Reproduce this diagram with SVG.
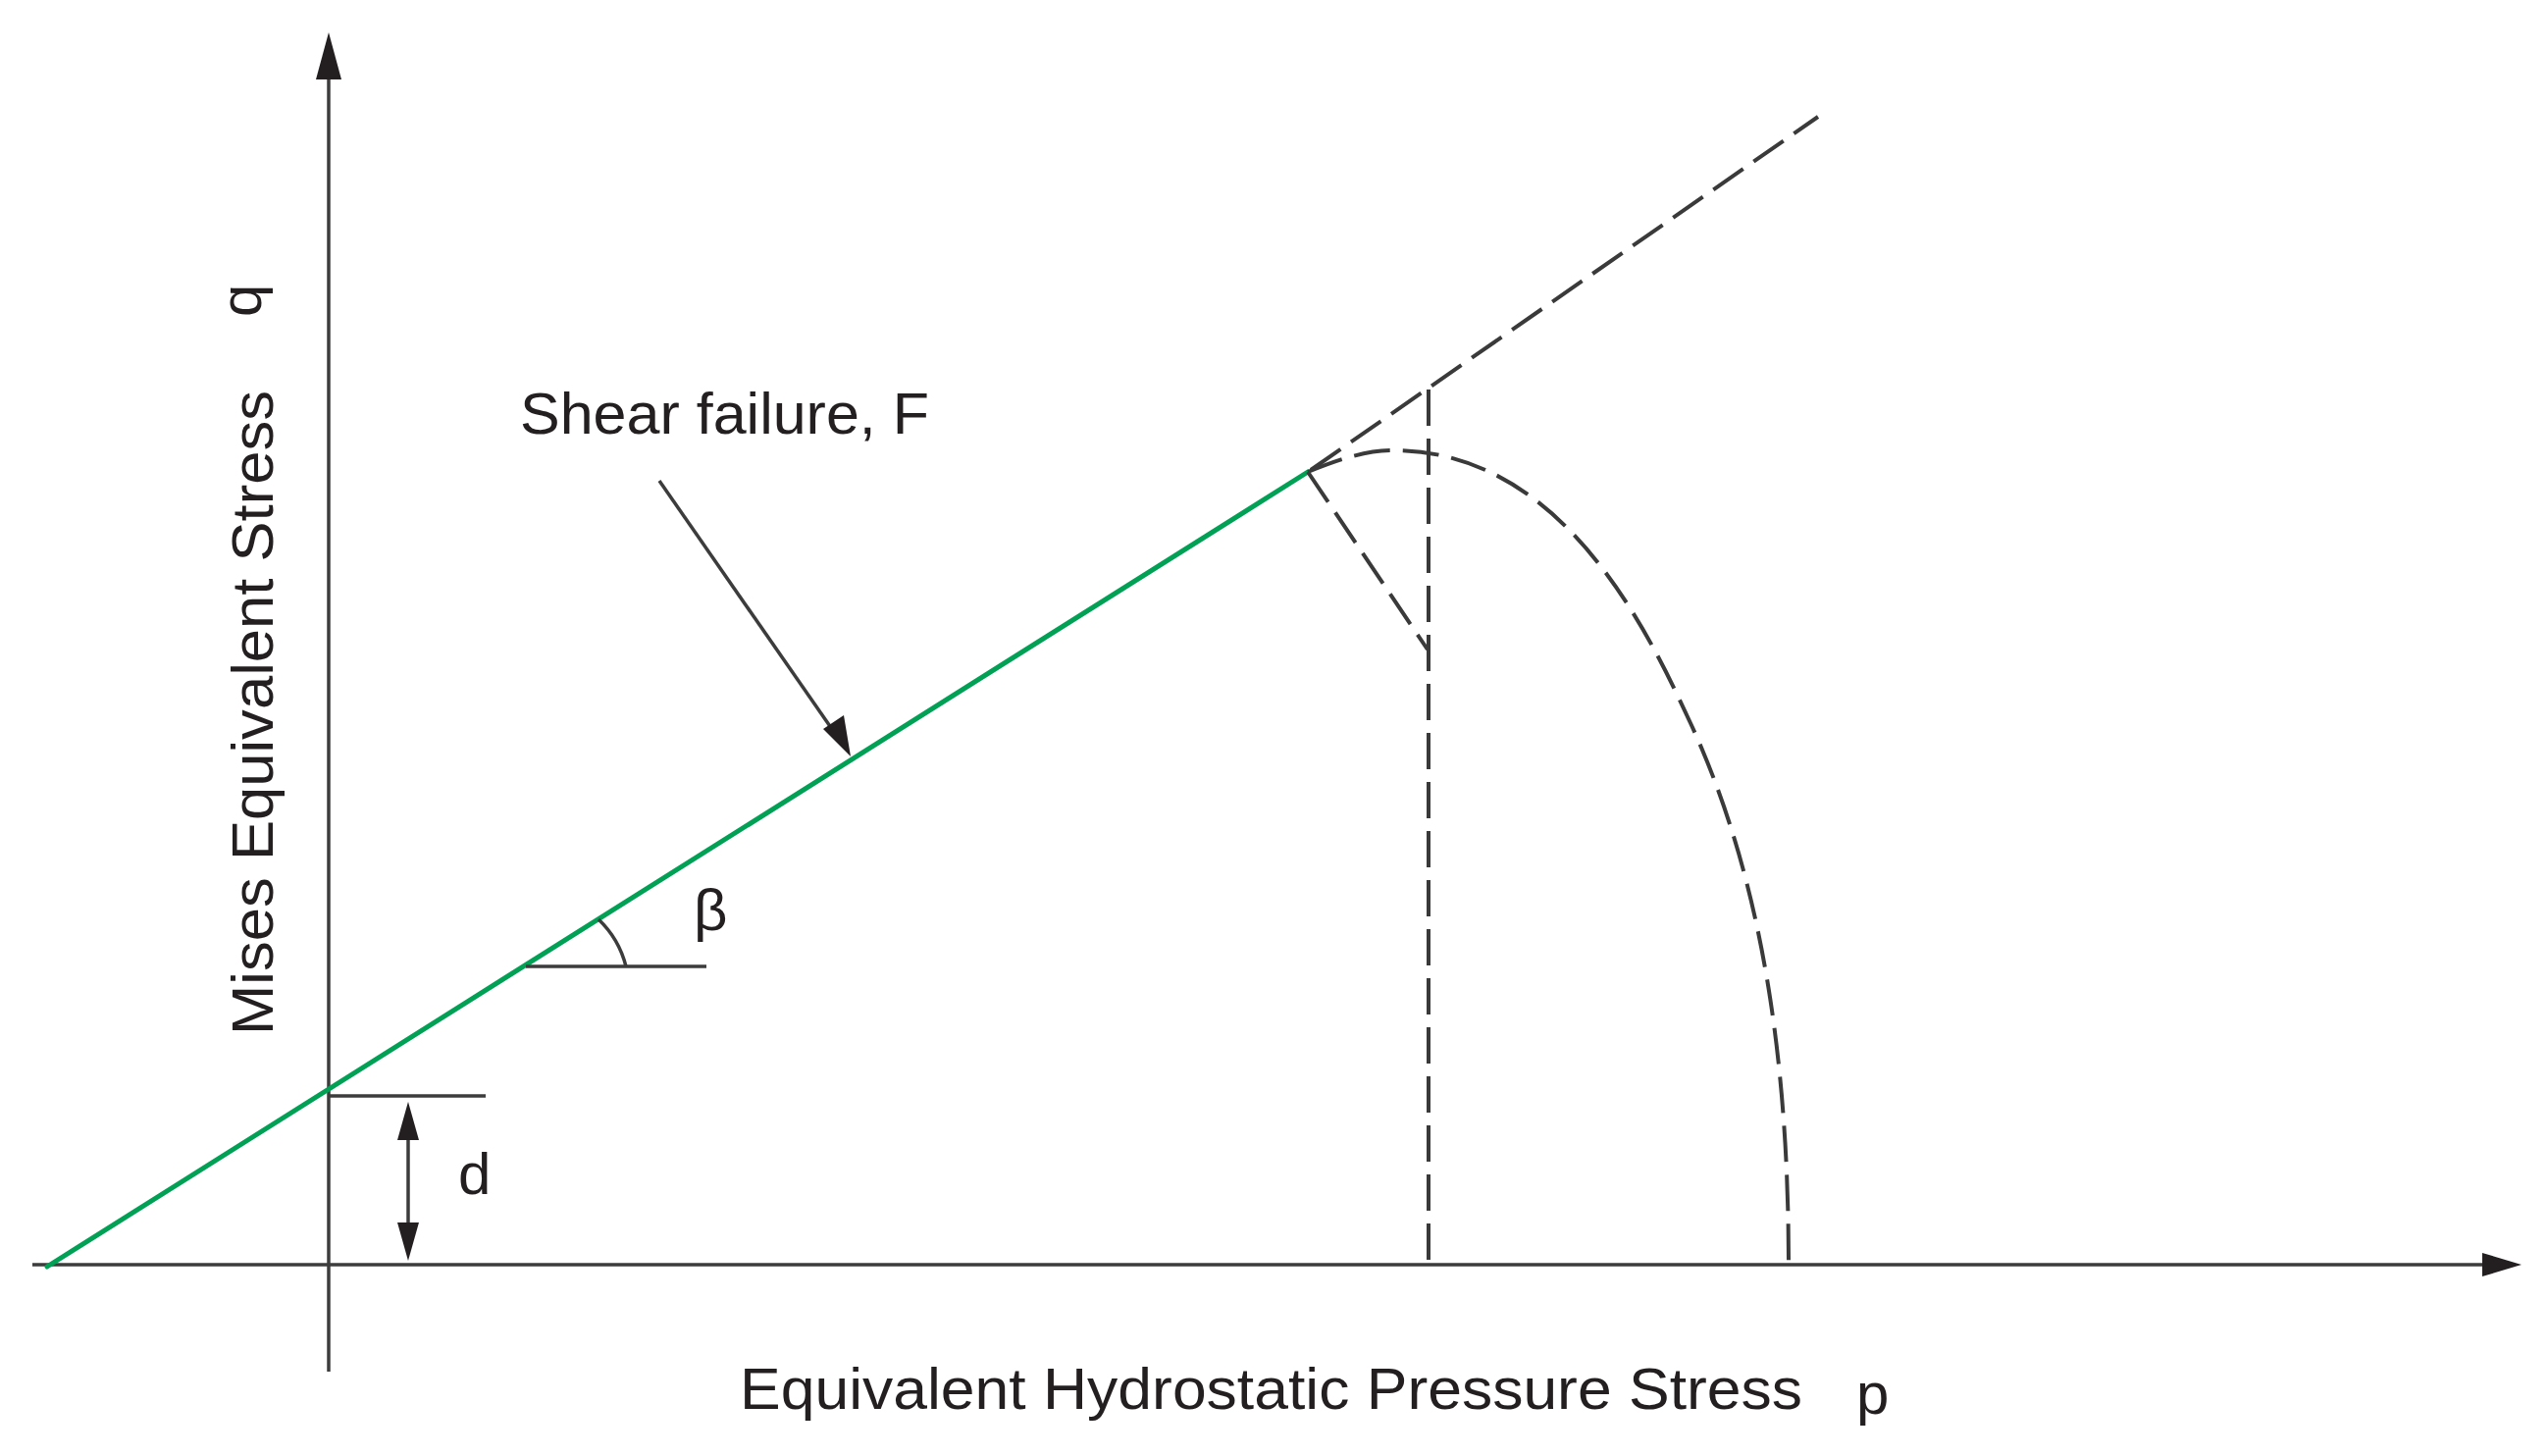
<svg xmlns="http://www.w3.org/2000/svg" width="2597" height="1484" viewBox="0 0 2597 1484">
  <style>
    .axis { stroke: #3c3c3c; stroke-width: 3.5; fill: none; }
    .thin { stroke: #3c3c3c; stroke-width: 3.5; fill: none; }
    .dash { stroke: #3a3a3a; stroke-width: 4; fill: none; stroke-dasharray: 37 13; }
    .green { stroke: #00a055; stroke-width: 5; fill: none; stroke-linecap: round; }
    .lbl { font-family: "Liberation Sans", Arial, sans-serif; font-size: 60px; fill: #231f20; }
    .head { fill: #231f20; }
  </style>
  <rect width="2597" height="1484" fill="#ffffff"/>

  <g id="axes">
    <line class="axis" x1="335" y1="1398" x2="335" y2="75"/>
    <polygon class="head" points="335,33 322,81 348,81"/>
    <line class="axis" x1="33" y1="1289" x2="2535" y2="1289"/>
    <polygon class="head" points="2570,1289 2530,1277 2530,1301"/>
  </g>

  <g id="shear-line">
    <line class="green" x1="48" y1="1291" x2="1333" y2="481"/>
  </g>

  <g id="cap">
    <line class="dash" x1="1336" y1="479" x2="1853" y2="119"/>
    <line class="dash" x1="1456" y1="397" x2="1456" y2="1288"/>
    <line class="dash" x1="1333" y1="481" x2="1455" y2="662"/>
    <path class="dash" d="M1333,481 C1360,470 1390,459 1420,459 C1590,459 1677,637 1723,737 C1783,867 1823,1038 1823,1288"/>
  </g>

  <g id="d-dimension">
    <line class="thin" x1="335" y1="1117" x2="495" y2="1117"/>
    <line class="thin" x1="416" y1="1150" x2="416" y2="1258"/>
    <polygon class="head" points="416,1123 405,1162 427,1162"/>
    <polygon class="head" points="416,1285 405,1246 427,1246"/>
    <text class="lbl" x="467" y="1217">d</text>
  </g>

  <g id="beta-angle">
    <line class="thin" x1="536" y1="985" x2="720" y2="985"/>
    <path class="thin" d="M638,985 A100,100 0 0 0 610,937"/>
    <text class="lbl" x="707" y="948">β</text>
  </g>

  <g id="shear-label">
    <text class="lbl" x="530" y="442" textLength="417" lengthAdjust="spacingAndGlyphs">Shear failure, F</text>
    <line class="thin" x1="672" y1="490" x2="850" y2="746"/>
    <polygon class="head" points="867,771 839,743 860,729"/>
  </g>

  <g id="axis-labels">
    <text class="lbl" transform="translate(278,1055) rotate(-90)" textLength="657" lengthAdjust="spacingAndGlyphs">Mises Equivalent Stress</text>
    <text class="lbl" transform="translate(266,323) rotate(-90)">q</text>
    <text class="lbl" x="754" y="1436" textLength="1083" lengthAdjust="spacingAndGlyphs">Equivalent Hydrostatic Pressure Stress</text>
    <text class="lbl" x="1892" y="1441">p</text>
  </g>
</svg>
